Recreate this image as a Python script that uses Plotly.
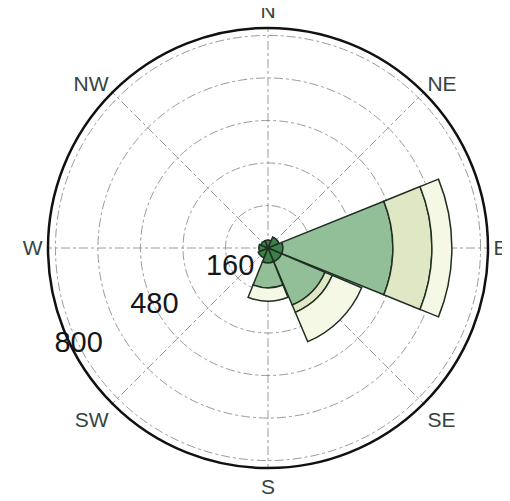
import plotly.graph_objects as go

directions = ["N", "NE", "E", "SE", "S", "SW", "W", "NW"]
angles = [0, 45, 90, 135, 180, 225, 270, 315]
# stacked speed bins (counts)
bin1 = [30, 45, 56, 56, 56, 40, 35, 30]
bin2 = [0, 0, 414, 177, 94, 0, 0, 0]
bin3 = [0, 0, 147, 30, 0, 0, 0, 0]
bin4 = [0, 0, 75, 120, 50, 0, 0, 0]
bin_names = ["bin 1", "bin 2", "bin 3", "bin 4"]
bin_colors = ["#3e8049", "#93bf98", "#dfe7c4", "#f6f8e6"]
radial_ticks = [160, 320, 480, 640, 800]
radial_labels = ["160", "", "480", "", "800"]

LABEL_ANGLE = 243  # compass direction along which radial labels sit

fig = go.Figure()
for name, vals, col in zip(bin_names, [bin1, bin2, bin3, bin4], bin_colors):
    fig.add_trace(go.Barpolar(
        r=vals, theta=angles, width=[44] * len(angles), name=name,
        marker=dict(color=col, line=dict(color="#1f2f22", width=1.5)),
        showlegend=False, hoverinfo="skip",
    ))

# radial tick labels, placed through the polar scale
lab_r = [v for v, t in zip(radial_ticks, radial_labels) if t]
lab_t = [t for t in radial_labels if t]
fig.add_trace(go.Scatterpolar(
    r=lab_r, theta=[LABEL_ANGLE] * len(lab_r), text=lab_t,
    mode="text", textposition="middle center",
    textfont=dict(family="Liberation Sans, Arial", size=29, color="#161616"),
    showlegend=False, hoverinfo="skip",
))

fig.update_layout(
    width=510, height=501,
    margin=dict(l=40, r=30, t=20, b=41),
    paper_bgcolor="white",
    polar=dict(
        bgcolor="white",
        domain=dict(x=[0, 1], y=[0, 1]),
        radialaxis=dict(
            range=[0, 828], tickvals=radial_ticks, ticktext=radial_labels,
            showline=False, ticks="", showticklabels=False,
            gridcolor="#9a9a9a", griddash="dashdot", gridwidth=1,
        ),
        angularaxis=dict(
            direction="clockwise", rotation=90,
            tickvals=angles, ticktext=directions,
            showline=True, linecolor="#111", linewidth=2.5,
            gridcolor="#9a9a9a", griddash="dashdot", gridwidth=1,
            ticks="",
            tickfont=dict(family="Liberation Sans, Arial", size=21, color="#34443f"),
        ),
    ),
)
fig.write_html("out.html")
